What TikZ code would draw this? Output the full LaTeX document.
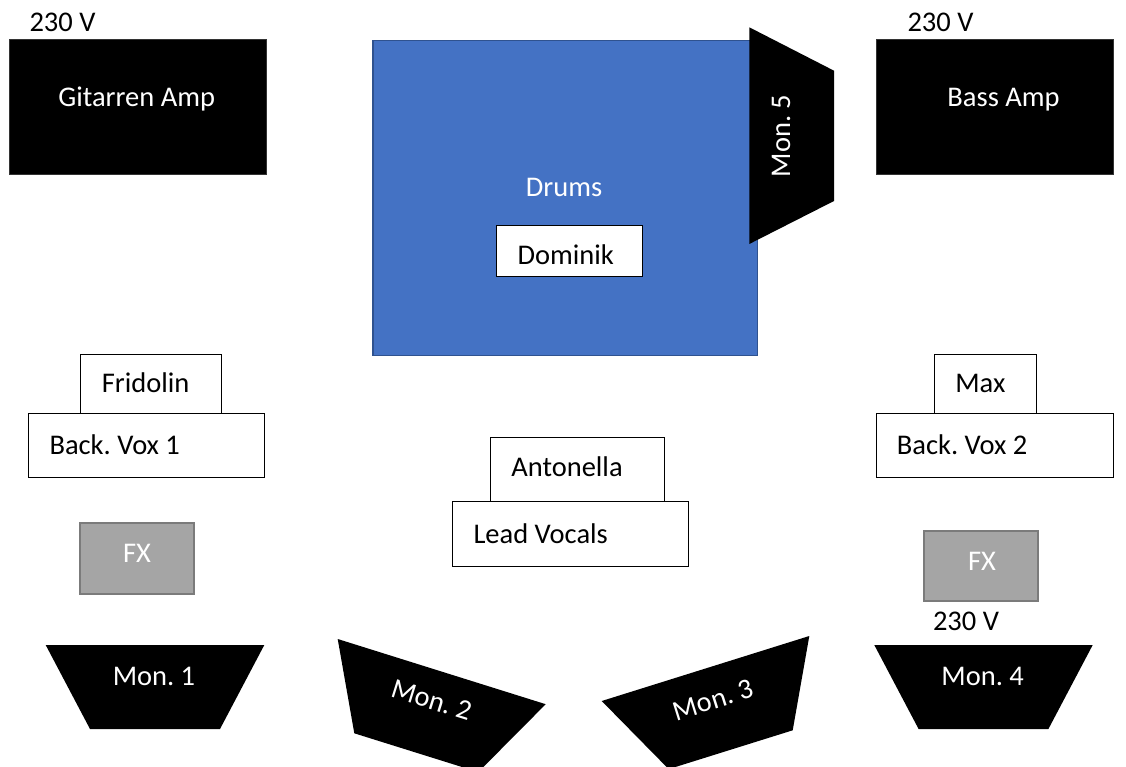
\documentclass[tikz,border=0pt]{standalone}
\usepackage{fontspec}
\setmainfont{Carlito}
\definecolor{drumblue}{HTML}{4472C4}
\definecolor{drumedge}{HTML}{2F528F}
\definecolor{fxgray}{HTML}{A5A5A5}
\definecolor{fxedge}{HTML}{7B7B7B}
\frenchspacing
\begin{document}
\begin{tikzpicture}[x=1pt,y=-1pt,
  txt/.style={inner sep=0pt, text height=18.4pt, text depth=0pt, font=\fontsize{28.5}{34}\selectfont},
  wtxt/.style={txt, text=white},
  ampbox/.style={fill=black, draw=black!80, line width=0.6pt, inner sep=0pt, anchor=north west},
  personbox/.style={draw=black, fill=white, line width=1pt, inner sep=0pt, anchor=north west},
  fxbox/.style={fill=fxgray, draw=fxedge, line width=1.8pt, inner sep=0pt, anchor=north west},
  drumbox/.style={fill=drumblue, draw=drumedge, line width=1.5pt, inner sep=0pt, anchor=north west},
  monshape/.style={fill=black}]
\useasboundingbox (0,0) rectangle (1126,767);
\clip (0,0) rectangle (1126,767);

% amps
\node[ampbox, minimum width=257pt, minimum height=134.5pt] (gamp) at (8.5,39.5) {};
\node[wtxt] at (136.7,97) {Gitarren Amp};
\node[txt] (v1) at (62.5,22) {230 V};

\node[ampbox, minimum width=236.5pt, minimum height=134.5pt] (bamp) at (876,39.5) {};
\node[wtxt] at (1003.5,97) {Bass Amp};
\node[txt] (v2) at (940.5,22) {230 V};

% drums
\node[drumbox, minimum width=384.5pt, minimum height=314.5pt] (drums) at (372,40) {};
\node[wtxt] at (564,187) {Drums};
\node[personbox, minimum width=146.6pt, minimum height=51pt] (dom) at (495.7,225) {};
\node[txt] at (565.7,255) {Dominik};

% monitor 5
\coordinate (m5a) at (749.3,27.3);
\coordinate (m5b) at (834,70.7);
\coordinate (m5c) at (834,201);
\coordinate (m5d) at (749.3,244);
\fill[monshape] (m5a) -- (m5b) -- (m5c) -- (m5d) -- cycle;
\node[wtxt, rotate=90] (mon5) at (781,136) {Mon. 5};

% left backing vocals
\node[personbox, minimum width=140.7pt, minimum height=58.7pt] (frid) at (80,354.3) {};
\node[txt] at (145.7,383.3) {Fridolin};
\node[personbox, minimum width=236.6pt, minimum height=64.3pt] (bv1) at (27.7,413) {};
\node[txt, anchor=west] at ([xshift=21.6pt]bv1.west) {Back. Vox 1};

% right backing vocals
\node[personbox, minimum width=102pt, minimum height=58.7pt] (max) at (934.3,354.3) {};
\node[txt] at (980.3,383.3) {Max};
\node[personbox, minimum width=236.7pt, minimum height=64.3pt] (bv2) at (876,413) {};
\node[txt, anchor=west] at ([xshift=20.7pt]bv2.west) {Back. Vox 2};

% lead vocals
\node[personbox, minimum width=173.7pt, minimum height=64pt] (anto) at (490,437.3) {};
\node[txt] at (567,467) {Antonella};
\node[personbox, minimum width=236.3pt, minimum height=64.4pt] (lead) at (452,501.3) {};
\node[txt, anchor=west] at ([xshift=21.3pt]lead.west) {Lead Vocals};

% FX
\node[fxbox, minimum width=114pt, minimum height=71.6pt] (fx1) at (79,521.7) {};
\node[wtxt] at (137,553.3) {FX};
\node[fxbox, minimum width=113.7pt, minimum height=70.3pt] (fx2) at (923.3,530) {};
\node[wtxt] at (982,561.7) {FX};
\node[txt] (v3) at (966,621.7) {230 V};

% monitor 1
\fill[monshape] (45.7,645) -- (264.3,645) -- (220,729) -- (90,729) -- cycle;
\node[wtxt] (mon1) at (154,676.7) {Mon. 1};

% monitor 4
\fill[monshape] (874.3,645) -- (1092.7,645) -- (1048.4,729) -- (918.6,729) -- cycle;
\node[wtxt] (mon4) at (982.7,676.7) {Mon. 4};

% monitor 2
\fill[monshape] (337.7,639) -- (545.7,704.2) -- (478.3,772.1) -- (354.3,733.3) -- cycle;
\node[wtxt, rotate=-17.4] (mon2) at (431.7,700) {Mon. 2};

% monitor 3
\fill[monshape] (809.3,636) -- (601.7,701) -- (668.7,769.1) -- (792.7,730.3) -- cycle;
\node[wtxt, rotate=17.4] (mon3) at (713.3,700) {Mon. 3};
\end{tikzpicture}
\end{document}
